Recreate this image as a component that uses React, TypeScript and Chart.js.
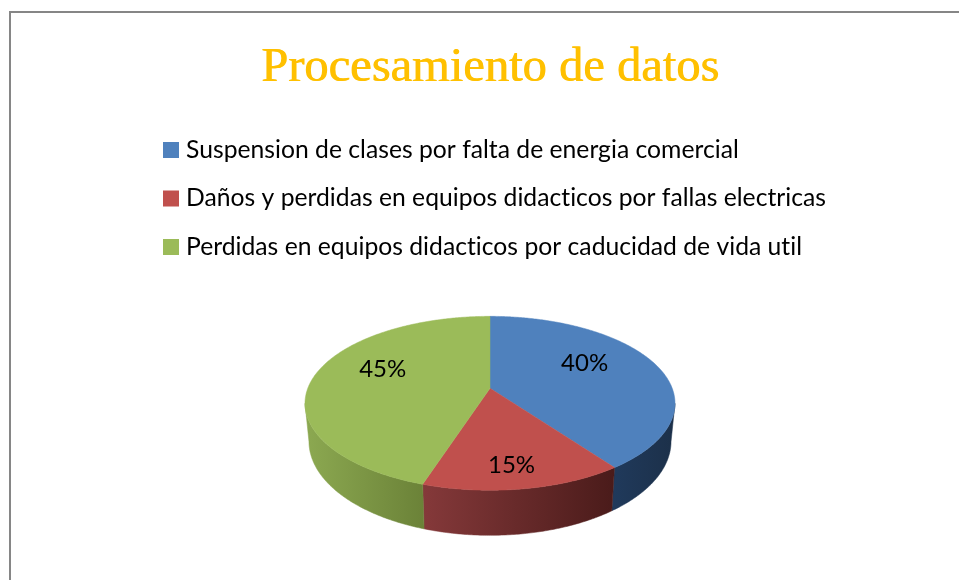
import React, { useEffect, useRef } from "react";
import { Chart, registerables } from "chart.js";

Chart.register(...registerables);

const TITLE = "Procesamiento de datos";
const categories = [
  "Suspension de clases por falta de energia comercial",
  "Daños y perdidas en equipos didacticos por fallas electricas",
  "Perdidas en equipos didacticos por caducidad de vida util",
];
const values = [40, 15, 45];
const topColors = ["#4F81BD", "#C0504D", "#9BBB59"];
const sideDark = ["#1C3049", "#4A1B1A", "#6B8238"];
const sideLight = ["#203A5C", "#85393A", "#8CA951"];

// Excel-like 3D view: disk angle -> screen, relative to the arc centre
const PERSPECTIVE = 0.1724;
const TOP_W = 0.985;
const TOP_H = 0.456;
const BOTTOM_W = 0.964;
const BOTTOM_H = 0.493;
const BOTTOM_DY = 36.8;
const HORIZON = (10 * Math.PI) / 180;

const labelRadius = [0.55, 0.75, 0.6];
const labelNudgeX = [2, -3, -1];
const labelNudgeY = [-11, 5, -11];

const LEGEND_FONT = 24.7;
const LEGEND_ROW = 48.5;
const LEGEND_BOX_W = 30 - LEGEND_FONT;

function project(arc: any, t: number, r: number, lower: boolean) {
  const R = arc.outerRadius;
  const d = 1 - PERSPECTIVE * r * Math.sin(t);
  const w = (lower ? BOTTOM_W : TOP_W) * R;
  const h = (lower ? BOTTOM_H : TOP_H) * R;
  return {
    x: arc.x + (w * r * Math.cos(t)) / d,
    y: arc.y + (lower ? BOTTOM_DY : 0) + (h * r * Math.sin(t)) / d,
  };
}

function samples(a: number, b: number) {
  const n = Math.max(2, Math.ceil(Math.abs(b - a) / 0.01));
  const out: number[] = [];
  for (let i = 0; i <= n; i++) out.push(a + ((b - a) * i) / n);
  return out;
}

const pie3d = {
  id: "pie3d",
  afterLayout(chart: any) {
    const lg = chart.legend;
    const pad = LEGEND_ROW - LEGEND_FONT;
    lg.left = 171 - LEGEND_BOX_W / 2 - pad;
    lg.top = 150 - LEGEND_FONT / 2 - pad;
    lg.bottom = lg.top + lg.height;
    // the reference title is a little heavier than the regular serif face
    const tb = chart.titleBlock;
    if (tb && !tb.__heavy) {
      tb.__heavy = true;
      const draw = tb.draw.bind(tb);
      tb.draw = () => {
        const ctx = chart.ctx;
        ctx.save();
        ctx.shadowColor = "#FFC000";
        ctx.shadowOffsetX = 0.8;
        ctx.shadowBlur = 0;
        draw();
        ctx.restore();
      };
    }
  },
  beforeDraw(chart: any) {
    // a tiny letter spacing turns off the "ti" ligature of the legend font
    chart.ctx.letterSpacing = "0.01px";
  },
  beforeDatasetDraw(chart: any, args: any) {
    const ctx = chart.ctx;
    const arcs = args.meta.data;
    ctx.save();
    arcs.forEach((arc: any, i: number) => {
      const a = Math.max(arc.startAngle, HORIZON);
      const b = Math.min(arc.endAngle, Math.PI - HORIZON);
      if (b <= a) return;
      const ts = samples(a, b);
      const top = ts.map((t) => project(arc, t, 1, false));
      const low = ts.map((t) => project(arc, t, 1, true));
      const xs = top.concat(low).map((p) => p.x);
      const g = ctx.createLinearGradient(Math.min(...xs), 0, Math.max(...xs), 0);
      g.addColorStop(0, sideLight[i]);
      g.addColorStop(1, sideDark[i]);
      ctx.beginPath();
      top.forEach((p, k) => (k ? ctx.lineTo(p.x, p.y) : ctx.moveTo(p.x, p.y)));
      low.reverse().forEach((p) => ctx.lineTo(p.x, p.y));
      ctx.closePath();
      ctx.fillStyle = g;
      ctx.strokeStyle = g;
      ctx.lineWidth = 0.5;
      ctx.fill();
      ctx.stroke();
    });
    arcs.forEach((arc: any, i: number) => {
      ctx.beginPath();
      ctx.moveTo(arc.x, arc.y);
      samples(arc.startAngle, arc.endAngle).forEach((t) => {
        const p = project(arc, t, 1, false);
        ctx.lineTo(p.x, p.y);
      });
      ctx.closePath();
      ctx.fillStyle = topColors[i];
      ctx.strokeStyle = topColors[i];
      ctx.lineWidth = 0.5;
      ctx.fill();
      ctx.stroke();
    });
    const total = values.reduce((s, v) => s + v, 0);
    ctx.fillStyle = "#000";
    ctx.font = "24px Lato";
    ctx.textAlign = "center";
    ctx.textBaseline = "middle";
    arcs.forEach((arc: any, i: number) => {
      const mid = (arc.startAngle + arc.endAngle) / 2;
      const p = project(arc, mid, labelRadius[i], false);
      ctx.fillText(
        `${Math.round((values[i] / total) * 100)}%`,
        p.x + labelNudgeX[i],
        p.y + labelNudgeY[i]
      );
    });
    ctx.restore();
    return false;
  },
};

export default function App() {
  const ref = useRef<HTMLCanvasElement>(null);
  useEffect(() => {
    const chart = new Chart(ref.current!, {
      type: "pie",
      data: {
        labels: categories,
        datasets: [
          {
            data: values,
            backgroundColor: topColors,
            borderWidth: 0,
            radius: 185,
          } as any,
        ],
      },
      options: {
        responsive: false,
        animation: false,
        layout: { padding: { left: 21, right: 0, top: 12, bottom: 56 } },
        plugins: {
          tooltip: { enabled: false },
          title: {
            display: true,
            text: TITLE,
            color: "#FFC000",
            font: { family: "'Liberation Serif'", size: 48.5, weight: "normal", lineHeight: 1.2 },
            padding: { top: 26.9, bottom: 0 },
          },
          legend: {
            display: true,
            position: "top",
            align: "start",
            labels: {
              color: "#000",
              font: { family: "Lato", size: LEGEND_FONT },
              usePointStyle: true,
              pointStyle: "rect",
              boxWidth: LEGEND_BOX_W,
              boxHeight: 16,
              padding: LEGEND_ROW - LEGEND_FONT,
            },
          },
        },
      },
      plugins: [pie3d],
    } as any);
    return () => chart.destroy();
  }, []);
  return (
    <div style={{ position: "fixed", left: 0, top: 0, width: 959, height: 580, overflow: "hidden", background: "#fff" }}>
      <div style={{ position: "absolute", left: 9, top: 11, width: 1000, height: 1000, border: "2px solid #868686" }} />
      <canvas ref={ref} width={959} height={580} style={{ position: "absolute", left: 0, top: 0, display: "block" }} />
    </div>
  );
}
